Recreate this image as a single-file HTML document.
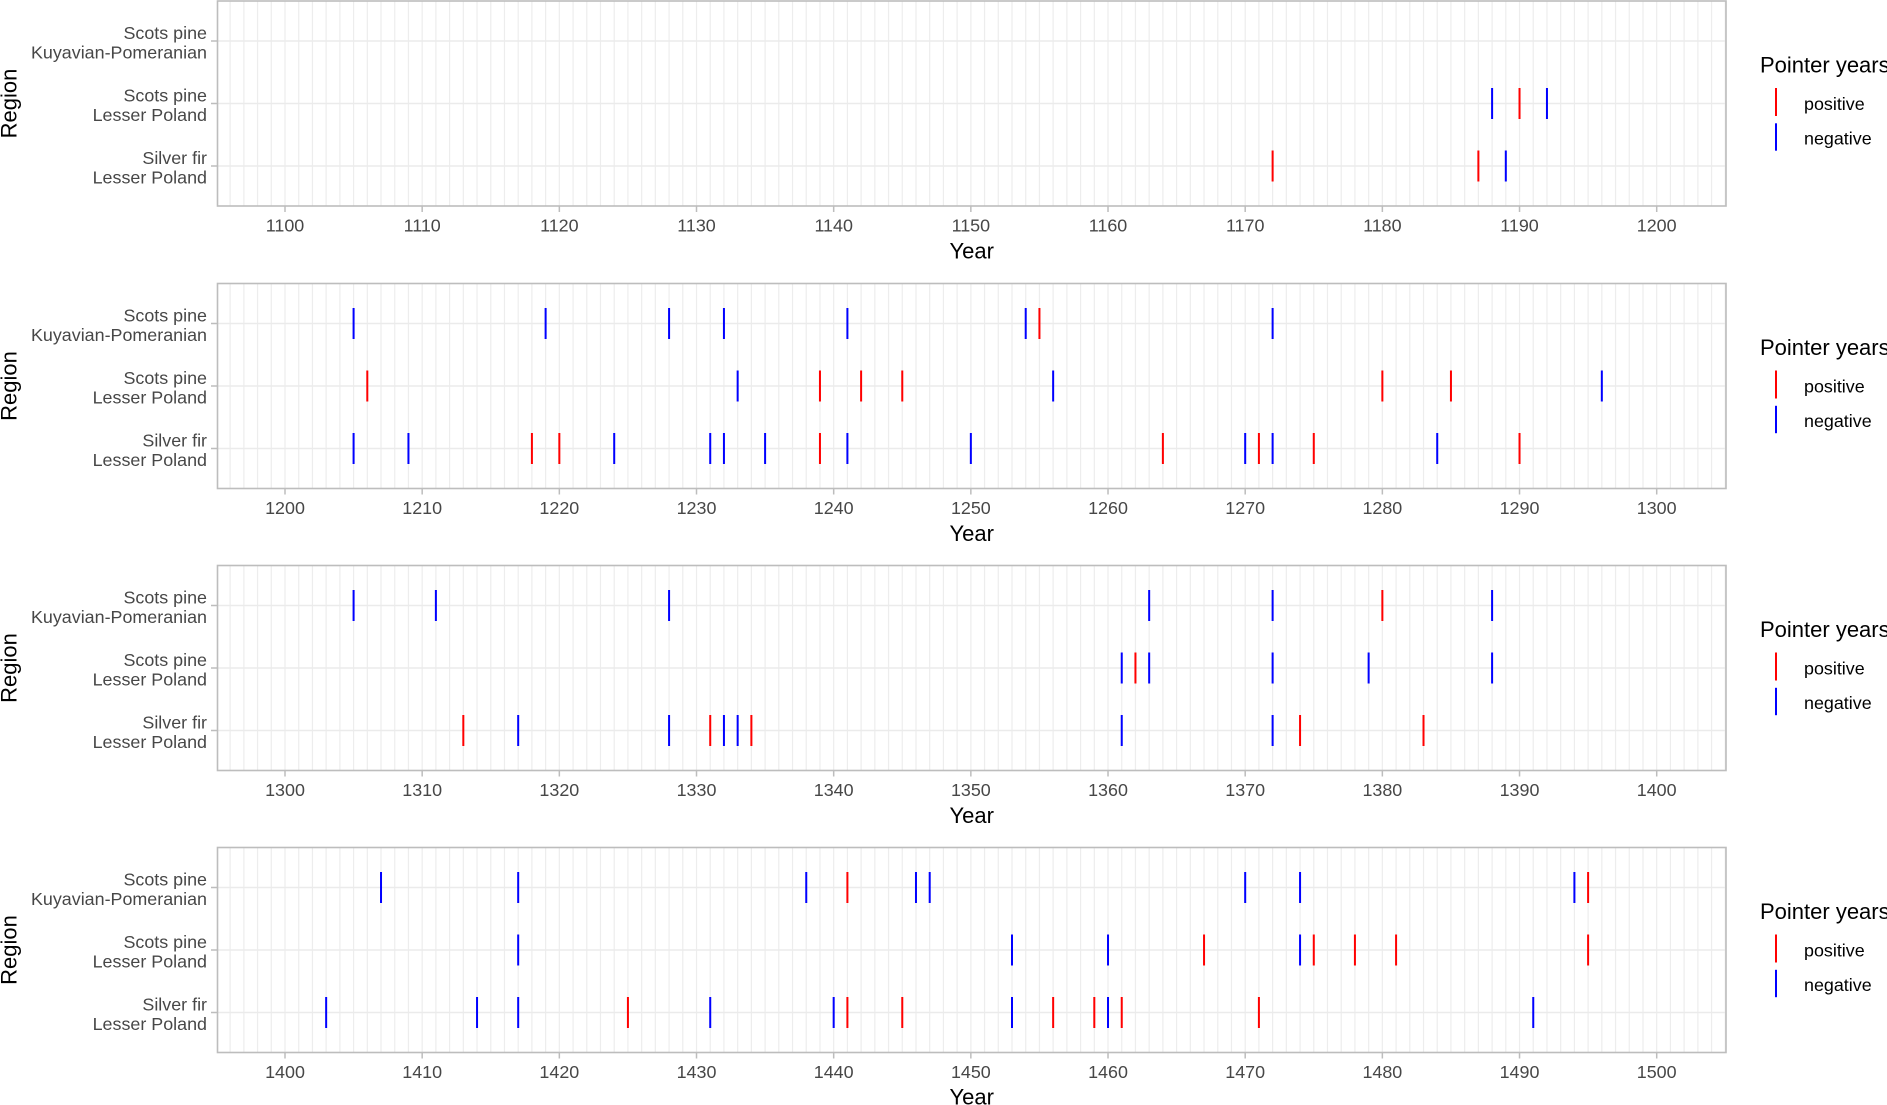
<!DOCTYPE html>
<html><head><meta charset="utf-8"><style>
html,body{margin:0;padding:0;background:#fff;}
svg{display:block;font-family:"Liberation Sans",Arial,sans-serif;}
.yl{font-size:17.9px;fill:#474747;text-anchor:end;}
.xl{font-size:17.9px;fill:#474747;text-anchor:middle;}
.tt{font-size:22px;fill:#000;}
.lg{font-size:17.9px;fill:#000;}
</style></head><body>
<svg width="1887" height="1105" viewBox="0 0 1887 1105" xmlns="http://www.w3.org/2000/svg">
<defs>
<clipPath id="pc"><rect x="217.5" y="0" width="1508.5" height="205"/></clipPath>
<path id="dec" d="M0 0V205M13.717 0V205M27.434 0V205M41.151 0V205M54.868 0V205M68.585 0V205M82.302 0V205M96.019 0V205M109.736 0V205M123.453 0V205" stroke="#EDEDED" stroke-width="1.2" fill="none"/>
<g id="grid">
<g clip-path="url(#pc)">
<use href="#dec" x="147.83"/><use href="#dec" x="285"/><use href="#dec" x="422.17"/><use href="#dec" x="559.34"/><use href="#dec" x="696.51"/><use href="#dec" x="833.68"/><use href="#dec" x="970.85"/><use href="#dec" x="1108.02"/><use href="#dec" x="1245.19"/><use href="#dec" x="1382.36"/><use href="#dec" x="1519.53"/><use href="#dec" x="1656.70"/>
<path d="M217.5 40H1726M217.5 102.5H1726M217.5 165H1726" stroke="#EBEBEB" stroke-width="1.5"/>
</g>
<rect x="217.5" y="0" width="1508.5" height="205" fill="none" stroke="#BDBDBD" stroke-width="1.6"/>
<path d="M211 40H217.5M211 102.5H217.5M211 165H217.5" stroke="#BDBDBD" stroke-width="1.5"/>
<path d="M285 205V211M422.17 205V211M559.34 205V211M696.51 205V211M833.68 205V211M970.85 205V211M1108.02 205V211M1245.19 205V211M1382.36 205V211M1519.53 205V211M1656.70 205V211" stroke="#BDBDBD" stroke-width="1.5"/>
<path d="M1776 87V115" stroke="#FF0000" stroke-width="2"/>
<path d="M1776 122.3V149.7" stroke="#0000FF" stroke-width="2"/>
</g>
</defs>

<!-- Panel 1 -->
<g transform="translate(0,1)">
<use href="#grid"/>
<text class="yl" x="207" y="37.9">Scots pine</text><text class="yl" x="207" y="57.4">Kuyavian-Pomeranian</text>
<text class="yl" x="207" y="100.4">Scots pine</text><text class="yl" x="207" y="119.9">Lesser Poland</text>
<text class="yl" x="207" y="162.9">Silver fir</text><text class="yl" x="207" y="182.4">Lesser Poland</text>
<text class="xl" x="285" y="230.3">1100</text><text class="xl" x="422.17" y="230.3">1110</text><text class="xl" x="559.34" y="230.3">1120</text><text class="xl" x="696.51" y="230.3">1130</text><text class="xl" x="833.68" y="230.3">1140</text><text class="xl" x="970.85" y="230.3">1150</text><text class="xl" x="1108.02" y="230.3">1160</text><text class="xl" x="1245.19" y="230.3">1170</text><text class="xl" x="1382.36" y="230.3">1180</text><text class="xl" x="1519.53" y="230.3">1190</text><text class="xl" x="1656.70" y="230.3">1200</text>
<text class="tt" x="971.7" y="257.4" text-anchor="middle">Year</text>
<text class="tt" transform="translate(16.5,102.5) rotate(-90)" text-anchor="middle">Region</text>
<text class="tt" x="1760" y="71.5">Pointer years</text>
<text class="lg" x="1804" y="109">positive</text><text class="lg" x="1804" y="143.5">negative</text>
<path stroke="#0000FF" stroke-width="2" d="M1492.10 87V118M1546.96 87V118M1505.81 149.5V180.5"/>
<path stroke="#FF0000" stroke-width="2" d="M1519.53 87V118M1272.62 149.5V180.5M1478.38 149.5V180.5"/>
</g>

<!-- Panel 2 -->
<g transform="translate(0,283.5)">
<use href="#grid"/>
<text class="yl" x="207" y="37.9">Scots pine</text><text class="yl" x="207" y="57.4">Kuyavian-Pomeranian</text>
<text class="yl" x="207" y="100.4">Scots pine</text><text class="yl" x="207" y="119.9">Lesser Poland</text>
<text class="yl" x="207" y="162.9">Silver fir</text><text class="yl" x="207" y="182.4">Lesser Poland</text>
<text class="xl" x="285" y="230.3">1200</text><text class="xl" x="422.17" y="230.3">1210</text><text class="xl" x="559.34" y="230.3">1220</text><text class="xl" x="696.51" y="230.3">1230</text><text class="xl" x="833.68" y="230.3">1240</text><text class="xl" x="970.85" y="230.3">1250</text><text class="xl" x="1108.02" y="230.3">1260</text><text class="xl" x="1245.19" y="230.3">1270</text><text class="xl" x="1382.36" y="230.3">1280</text><text class="xl" x="1519.53" y="230.3">1290</text><text class="xl" x="1656.70" y="230.3">1300</text>
<text class="tt" x="971.7" y="257.4" text-anchor="middle">Year</text>
<text class="tt" transform="translate(16.5,102.5) rotate(-90)" text-anchor="middle">Region</text>
<text class="tt" x="1760" y="71.5">Pointer years</text>
<text class="lg" x="1804" y="109">positive</text><text class="lg" x="1804" y="143.5">negative</text>
<path stroke="#0000FF" stroke-width="2" d="M353.59 24.5V55.5M545.62 24.5V55.5M669.08 24.5V55.5M723.94 24.5V55.5M847.40 24.5V55.5M1025.72 24.5V55.5M1272.62 24.5V55.5M737.66 87V118M1053.15 87V118M1601.83 87V118M353.59 149.5V180.5M408.45 149.5V180.5M614.21 149.5V180.5M710.23 149.5V180.5M723.94 149.5V180.5M765.10 149.5V180.5M847.40 149.5V180.5M970.85 149.5V180.5M1245.19 149.5V180.5M1272.62 149.5V180.5M1437.23 149.5V180.5"/>
<path stroke="#FF0000" stroke-width="2" d="M1039.44 24.5V55.5M367.30 87V118M819.96 87V118M861.11 87V118M902.27 87V118M1382.36 87V118M1450.95 87V118M531.91 149.5V180.5M559.34 149.5V180.5M819.96 149.5V180.5M1162.89 149.5V180.5M1258.91 149.5V180.5M1313.78 149.5V180.5M1519.53 149.5V180.5"/>
</g>

<!-- Panel 3 -->
<g transform="translate(0,565.5)">
<use href="#grid"/>
<text class="yl" x="207" y="37.9">Scots pine</text><text class="yl" x="207" y="57.4">Kuyavian-Pomeranian</text>
<text class="yl" x="207" y="100.4">Scots pine</text><text class="yl" x="207" y="119.9">Lesser Poland</text>
<text class="yl" x="207" y="162.9">Silver fir</text><text class="yl" x="207" y="182.4">Lesser Poland</text>
<text class="xl" x="285" y="230.3">1300</text><text class="xl" x="422.17" y="230.3">1310</text><text class="xl" x="559.34" y="230.3">1320</text><text class="xl" x="696.51" y="230.3">1330</text><text class="xl" x="833.68" y="230.3">1340</text><text class="xl" x="970.85" y="230.3">1350</text><text class="xl" x="1108.02" y="230.3">1360</text><text class="xl" x="1245.19" y="230.3">1370</text><text class="xl" x="1382.36" y="230.3">1380</text><text class="xl" x="1519.53" y="230.3">1390</text><text class="xl" x="1656.70" y="230.3">1400</text>
<text class="tt" x="971.7" y="257.4" text-anchor="middle">Year</text>
<text class="tt" transform="translate(16.5,102.5) rotate(-90)" text-anchor="middle">Region</text>
<text class="tt" x="1760" y="71.5">Pointer years</text>
<text class="lg" x="1804" y="109">positive</text><text class="lg" x="1804" y="143.5">negative</text>
<path stroke="#0000FF" stroke-width="2" d="M353.59 24.5V55.5M435.89 24.5V55.5M669.08 24.5V55.5M1149.17 24.5V55.5M1272.62 24.5V55.5M1492.10 24.5V55.5M1121.74 87V118M1149.17 87V118M1272.62 87V118M1368.64 87V118M1492.10 87V118M518.19 149.5V180.5M669.08 149.5V180.5M723.94 149.5V180.5M737.66 149.5V180.5M1121.74 149.5V180.5M1272.62 149.5V180.5"/>
<path stroke="#FF0000" stroke-width="2" d="M1382.36 24.5V55.5M1135.45 87V118M463.32 149.5V180.5M710.23 149.5V180.5M751.38 149.5V180.5M1300.06 149.5V180.5M1423.51 149.5V180.5"/>
</g>

<!-- Panel 4 -->
<g transform="translate(0,847.5)">
<use href="#grid"/>
<text class="yl" x="207" y="37.9">Scots pine</text><text class="yl" x="207" y="57.4">Kuyavian-Pomeranian</text>
<text class="yl" x="207" y="100.4">Scots pine</text><text class="yl" x="207" y="119.9">Lesser Poland</text>
<text class="yl" x="207" y="162.9">Silver fir</text><text class="yl" x="207" y="182.4">Lesser Poland</text>
<text class="xl" x="285" y="230.3">1400</text><text class="xl" x="422.17" y="230.3">1410</text><text class="xl" x="559.34" y="230.3">1420</text><text class="xl" x="696.51" y="230.3">1430</text><text class="xl" x="833.68" y="230.3">1440</text><text class="xl" x="970.85" y="230.3">1450</text><text class="xl" x="1108.02" y="230.3">1460</text><text class="xl" x="1245.19" y="230.3">1470</text><text class="xl" x="1382.36" y="230.3">1480</text><text class="xl" x="1519.53" y="230.3">1490</text><text class="xl" x="1656.70" y="230.3">1500</text>
<text class="tt" x="971.7" y="256.8" text-anchor="middle">Year</text>
<text class="tt" transform="translate(16.5,102.5) rotate(-90)" text-anchor="middle">Region</text>
<text class="tt" x="1760" y="71.5">Pointer years</text>
<text class="lg" x="1804" y="109">positive</text><text class="lg" x="1804" y="143.5">negative</text>
<path stroke="#0000FF" stroke-width="2" d="M381.02 24.5V55.5M518.19 24.5V55.5M806.25 24.5V55.5M915.98 24.5V55.5M929.70 24.5V55.5M1245.19 24.5V55.5M1300.06 24.5V55.5M1574.40 24.5V55.5M518.19 87V118M1012.00 87V118M1108.02 87V118M1300.06 87V118M326.15 149.5V180.5M477.04 149.5V180.5M518.19 149.5V180.5M710.23 149.5V180.5M833.68 149.5V180.5M1012.00 149.5V180.5M1108.02 149.5V180.5M1533.25 149.5V180.5"/>
<path stroke="#FF0000" stroke-width="2" d="M847.40 24.5V55.5M1588.11 24.5V55.5M1204.04 87V118M1313.78 87V118M1354.93 87V118M1396.08 87V118M1588.11 87V118M627.93 149.5V180.5M847.40 149.5V180.5M902.27 149.5V180.5M1053.15 149.5V180.5M1094.30 149.5V180.5M1121.74 149.5V180.5M1258.91 149.5V180.5"/>
</g>
</svg>
</body></html>
